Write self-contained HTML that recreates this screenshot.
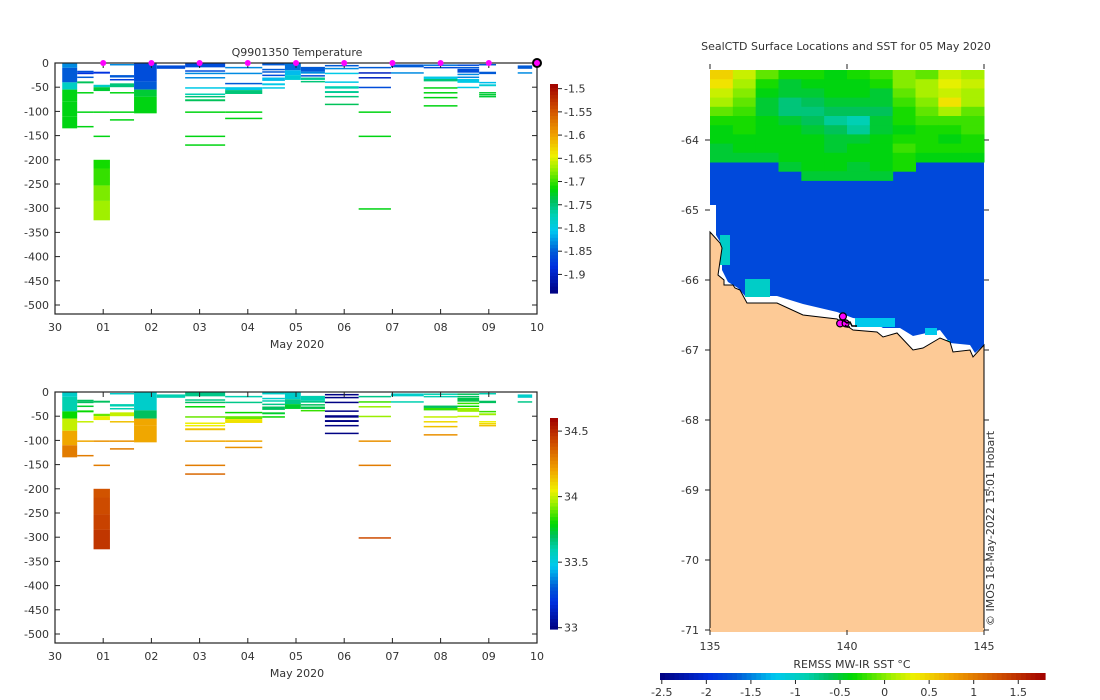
<!DOCTYPE html>
<html><head><meta charset="utf-8"><title>SealCTD</title>
<style>
body{margin:0;background:#fff;}
svg{display:block;font-family:"DejaVu Sans","Liberation Sans",sans-serif;}
text{fill:#333;font-size:11px;}
</style></head>
<body>
<svg id="fig" width="1100" height="700" viewBox="0 0 1100 700" xmlns="http://www.w3.org/2000/svg">
<g id="topPanel"></g>
<g id="botPanel"></g>
<g id="mapPanel"></g>
</svg>
<script>
// ---- section data ----
const dayLabels = ["30","01","02","03","04","05","06","07","08","09","10"];
const depthTicks = [0,50,100,150,200,250,300,350,400,450,500];
const tempTicks = [-1.5,-1.55,-1.6,-1.65,-1.7,-1.75,-1.8,-1.85,-1.9];
const salTicks = [34.5,34,33.5,33];
const castStart = [0.15,0.46,0.8,1.14,1.64,2.11,2.7,3.53,4.3,4.77,5.1,5.6,6.3,6.97,7.65,8.35,8.8,9.6];
const castEnd   = [0.46,0.8,1.14,1.64,2.11,2.7,3.53,4.3,4.77,5.1,5.6,6.3,6.97,7.65,8.35,8.8,9.15,9.9];
// layers: [topDepth, bottomDepth, temperature, salinity]
const castLayers = [
 [[0,10,-1.83,33.55],[10,40,-1.85,33.6],[40,55,-1.78,33.8],[55,80,-1.72,34.0],[80,110,-1.72,34.2],[110,135,-1.72,34.3]],
 [[16,20,-1.86,33.7],[20,23,-1.88,33.7],[28,31,-1.85,33.75],[38,42,-1.74,33.8],[60,62,-1.72,34.0],[100,102,-1.72,34.2],[130,132,-1.72,34.3]],
 [[18,22,-1.88,33.7],[45,50,-1.78,33.9],[50,58,-1.73,34.05],[100,102,-1.72,34.25],[150,152,-1.72,34.3],[200,218,-1.71,34.4],[218,253,-1.7,34.42],[253,285,-1.68,34.44],[285,325,-1.67,34.47]],
 [[2,5,-1.83,33.55],[25,30,-1.85,33.6],[33,36,-1.87,33.6],[42,50,-1.75,34.0],[60,62,-1.72,34.15],[100,102,-1.72,34.25],[116,118,-1.72,34.3]],
 [[0,38,-1.86,33.55],[38,55,-1.85,33.7],[55,70,-1.73,34.2],[70,104,-1.72,34.2]],
 [[5,12,-1.86,33.6]],
 [[0,9,-1.86,33.65],[15,17,-1.86,33.65],[20,22,-1.83,33.7],[29,31,-1.83,33.8],[50,52,-1.8,33.9],[63,65,-1.77,34.05],[68,70,-1.75,34.05],[75,79,-1.74,34.15],[100,102,-1.72,34.2],[150,152,-1.72,34.3],[168,170,-1.72,34.35]],
 [[8,10,-1.83,33.6],[20,22,-1.83,33.65],[41,43,-1.85,33.8],[50,56,-1.8,33.9],[56,64,-1.75,34.08],[100,102,-1.72,34.2],[113,115,-1.72,34.25]],
 [[0,5,-1.85,33.55],[12,14,-1.85,33.55],[17,19,-1.85,33.6],[24,26,-1.86,33.65],[30,37,-1.81,33.7],[42,46,-1.8,33.75],[50,52,-1.8,33.8]],
 [[0,15,-1.84,33.55],[15,25,-1.81,33.65],[25,35,-1.79,33.75]],
 [[8,18,-1.85,33.6],[18,22,-1.83,33.65],[25,27,-1.86,33.7],[30,35,-1.76,33.72],[37,40,-1.75,33.85]],
 [[4,6,-1.85,33.0],[10,13,-1.83,33.0],[20,23,-1.8,33.0],[38,40,-1.8,33.0],[48,53,-1.77,33.0],[58,62,-1.76,33.0],[68,70,-1.75,33.0],[84,86,-1.74,33.0]],
 [[8,10,-1.85,33.65],[19,21,-1.9,33.85],[29,31,-1.9,33.95],[49,51,-1.86,33.95],[100,102,-1.72,34.25],[150,152,-1.72,34.3],[300,302,-1.72,34.42]],
 [[3,9,-1.85,33.55],[19,21,-1.83,33.6]],
 [[3,5,-1.84,33.6],[8,10,-1.86,33.6],[28,33,-1.8,33.7],[33,38,-1.75,33.85],[50,52,-1.72,34.0],[60,62,-1.72,34.1],[70,72,-1.72,34.15],[87,89,-1.72,34.25]],
 [[3,5,-1.86,33.7],[8,10,-1.85,33.7],[12,20,-1.86,33.72],[22,25,-1.83,33.85],[28,30,-1.83,33.8],[33,41,-1.8,33.95],[49,51,-1.8,34.0]],
 [[2,5,-1.85,33.6],[18,23,-1.85,33.7],[39,42,-1.81,33.85],[44,48,-1.79,33.95],[60,62,-1.73,34.05],[64,67,-1.73,34.1],[68,71,-1.73,34.15]],
 [[5,12,-1.85,33.55],[19,21,-1.83,33.65]]
];
const surfaceDays = [1,2,3,4,5,6,7,8,9];
// SST map data
const mapLatTicks = [-64,-65,-66,-67,-68,-69,-70,-71];
const mapLonTicks = [135,140,145];
const sstTicks = [-2.5,-2,-1.5,-1,-0.5,0,0.5,1,1.5];
const sstGrid = [
 [0.5,0.2,-0.1,-0.3,-0.3,-0.4,-0.3,-0.2,0.0,-0.1,0.2,0.1],
 [0.4,0.1,-0.3,-0.5,-0.4,-0.4,-0.4,-0.3,0.0,0.1,0.3,0.2],
 [0.2,0.0,-0.4,-0.5,-0.5,-0.4,-0.4,-0.5,-0.1,0.1,0.2,0.1],
 [0.1,-0.1,-0.5,-0.7,-0.6,-0.5,-0.5,-0.5,-0.2,0.0,0.4,0.1],
 [-0.1,-0.2,-0.5,-0.7,-0.7,-0.6,-0.6,-0.6,-0.3,-0.1,0.1,-0.1],
 [-0.3,-0.3,-0.4,-0.5,-0.6,-0.8,-0.9,-0.5,-0.3,-0.2,-0.2,-0.2],
 [-0.4,-0.3,-0.4,-0.4,-0.5,-0.6,-0.8,-0.5,-0.4,-0.3,-0.3,-0.2],
 [-0.4,-0.4,-0.4,-0.4,-0.4,-0.5,-0.5,-0.4,-0.3,-0.3,-0.4,-0.3],
 [-0.5,-0.4,-0.4,-0.4,-0.4,-0.5,-0.4,-0.4,-0.2,-0.3,-0.3,-0.3],
 [-0.5,-0.5,-0.5,-0.4,-0.4,-0.4,-0.4,-0.4,-0.3,-0.4,-0.4,-0.4],
 [null,null,null,-0.5,-0.4,-0.4,-0.5,-0.4,-0.3,null,null,null],
 [null,null,null,null,-0.5,-0.5,-0.5,-0.5,null,null,null,null]
];
const iceSST = -1.78;
const ctdLon = [139.85,139.75,139.95];
const ctdLat = [-66.52,-66.62,-66.62];

// ---- helpers ----
const NS="http://www.w3.org/2000/svg";
function mk(tag,attrs,parent){const e=document.createElementNS(NS,tag);for(const k in attrs)e.setAttribute(k,attrs[k]);parent.appendChild(e);return e;}
const stops=[[0,[0,0,127]],[0.13,[0,48,224]],[0.2,[0,90,215]],[0.3,[0,200,240]],[0.38,[0,208,176]],[0.44,[0,192,96]],[0.5,[0,216,0]],[0.6,[160,240,0]],[0.66,[240,240,0]],[0.76,[240,160,0]],[0.88,[208,80,0]],[1,[160,0,0]]];
function cmap(f){f=Math.max(0,Math.min(1,f));for(let i=1;i<stops.length;i++){if(f<=stops[i][0]){const a=stops[i-1],b=stops[i];const t=(f-a[0])/(b[0]-a[0]);const c=a[1].map((v,j)=>Math.round(v+(b[1][j]-v)*t));return `rgb(${c[0]},${c[1]},${c[2]})`;}}return "rgb(160,0,0)";}

function panel(g, y0, vIndex, vmin, vmax, cbTop, cbBot, cbTicks, withTitle){
  const xL=55,xR=537,yB=y0+251;
  const xs=d=>xL+(xR-xL)*d/10;
  const ys=m=>y0+m*0.484;
  if(withTitle){const t=mk("text",{x:297,y:y0-7,"text-anchor":"middle","font-size":"12","xml:space":"preserve"},g);t.textContent="Q9901350  Temperature";
    
    }
  castStart.forEach((s,i)=>{
    castLayers[i].forEach(L=>{
      const r=mk("rect",{x:xs(s),y:ys(L[0]),width:xs(castEnd[i])-xs(s),height:Math.max(1.5,ys(L[1])-ys(L[0])),fill:cmap((L[vIndex]-vmin)/(vmax-vmin))},g);
      
      
    });
  });
  const fr=mk("rect",{x:xL,y:y0,width:xR-xL,height:yB-y0,fill:"none",stroke:"#222","stroke-width":1.2},g);
  
  
  depthTicks.forEach(d=>{
    const y=ys(d);
    mk("line",{x1:xL,x2:xL+5,y1:y,y2:y,stroke:"#222"},g);
    mk("line",{x1:xR-5,x2:xR,y1:y,y2:y,stroke:"#222"},g);
    const t=mk("text",{x:xL-6,y:y+4,"text-anchor":"end"},g);t.textContent=d?"-"+d:"0";
    
    
  });
  dayLabels.forEach((l,i)=>{
    const x=xs(i);
    mk("line",{x1:x,x2:x,y1:yB,y2:yB-5,stroke:"#222"},g);
    mk("line",{x1:x,x2:x,y1:y0,y2:y0+5,stroke:"#222"},g);
    const t=mk("text",{x:x,y:yB+17,"text-anchor":"middle"},g);t.textContent=l;
    
    
  });
  const xt=mk("text",{x:297,y:yB+34,"text-anchor":"middle"},g);xt.textContent="May 2020";
  
  
  const cb=mk("g",{},g);
  
  
  const n=60;for(let k=0;k<n;k++){mk("rect",{x:550,y:cbBot-(k+1)*(cbBot-cbTop)/n,width:8,height:(cbBot-cbTop)/n+0.6,fill:cmap((k+0.5)/n)},cb);}
  cbTicks.forEach(v=>{const y=cbBot-(v-vmin)/(vmax-vmin)*(cbBot-cbTop);
    mk("line",{x1:558,x2:562,y1:y,y2:y,stroke:"#222"},cb);
    const t=mk("text",{x:564,y:y+4},cb);t.textContent=String(v);
    
    });
  return {xs,ys};
}
const topG=document.getElementById('topPanel');
const A=panel(topG,63,2,-1.94,-1.49,84,293,tempTicks,true);
surfaceDays.forEach(d=>{const c=mk("circle",{cx:A.xs(d),cy:63,r:3,fill:"#f0f"},topG);
  
  });
const last=mk("circle",{cx:A.xs(10),cy:63,r:4,fill:"#f0f",stroke:"#000","stroke-width":2},topG);


const botG=document.getElementById('botPanel');
panel(botG,392,3,32.99,34.6,418,629,salTicks,false);

// ---- map ----
const mapG=document.getElementById('mapPanel');
const mL=710,mR=984,mT=70,mB=630;
const lonX=l=>mL+(l-135)*(mR-mL)/10;
const latY=l=>mT+(-63-l)*70;
const tt=mk("text",{x:846,y:50,"text-anchor":"middle","font-size":"11.5"},mapG);tt.textContent="SealCTD Surface Locations and SST for 05 May 2020";


const sstMin=-2.52,sstMax=1.8;
const sc=v=>cmap((v-sstMin)/(sstMax-sstMin));
mk("rect",{x:mL,y:mT,width:mR-mL,height:mB-mT,fill:"#fff"},mapG);
const ice=mk("polygon",{points:"710,162 984,162 984,345 975,353 970,345 950,343 940,330 913,336 900,328 883,328 870,320 853,318 837,312 803,304 777,296 745,296 738,288 728,282 722,270 722,245 716,235 716,205 710,205",fill:sc(iceSST)},mapG);


const cw=(mR-mL)/12,ch=9.2;
sstGrid.forEach((row,r)=>row.forEach((v,c)=>{if(v===null)return;
  const e=mk("rect",{x:mL+c*cw,y:mT+r*ch,width:cw+0.5,height:ch+0.5,fill:sc(v)},mapG);
  
  }));
[[720,235,10,30,-1.0],[745,279,25,18,-1.0],[855,318,40,9,-1.2],[925,328,12,7,-1.2],[940,340,10,6,-1.2]].forEach(a=>{
  const e=mk("rect",{x:a[0],y:a[1],width:a[2],height:a[3],fill:sc(a[4])},mapG);
  
  });
const land=mk("polygon",{points:"710,232 720,243 722,248 718,275 724,280 724,285 733,285 735,288 740,290 747,303 777,303 803,315 837,319 853,330 877,332 883,337 897,333 913,350 923,348 940,338 950,342 953,352 970,350 973,357 984,345 984,630 710,630",fill:"#fdca96",stroke:"#000","stroke-width":1},mapG);


mk("rect",{x:mL,y:mB-2,width:mR-mL,height:4,fill:"#fdca96"},mapG);
ctdLon.forEach((l,i)=>{const c=mk("circle",{cx:lonX(l),cy:latY(ctdLat[i]),r:3.5,fill:"#f0f",stroke:"#000","stroke-width":1.2},mapG);
  
  });
mk("path",{d:"M843,320 l4,3 l3,-1 l2,4 l5,0 M845,325 l2,2 l3,0",stroke:"#000","stroke-width":1.5,fill:"none"},mapG);
mapLatTicks.forEach(l=>{const y=latY(l);
  mk("line",{x1:mL-5,x2:mL,y1:y,y2:y,stroke:"#222"},mapG);
  mk("line",{x1:mR,x2:mR+5,y1:y,y2:y,stroke:"#222"},mapG);
  const t=mk("text",{x:mL-11,y:y+4,"text-anchor":"end"},mapG);t.textContent=String(l);
  
  });
mapLonTicks.forEach(l=>{const x=lonX(l);
  mk("line",{x1:x,x2:x,y1:mT-6,y2:mT-1,stroke:"#222"},mapG);
  mk("line",{x1:x,x2:x,y1:mB,y2:mB+5,stroke:"#222"},mapG);
  const t=mk("text",{x:x,y:mB+20,"text-anchor":"middle"},mapG);t.textContent=String(l);
  
  });
const cr=mk("text",{x:0,y:0,transform:"translate(994,626) rotate(-90)","font-size":"10"},mapG);cr.textContent="© IMOS 18-May-2022 15:01 Hobart";


const cbg=mk("g",{},mapG);


const bL=660,bR=1045,nb=80;
for(let k=0;k<nb;k++){mk("rect",{x:bL+k*(bR-bL)/nb,y:673,width:(bR-bL)/nb+0.6,height:7,fill:cmap((k+0.5)/nb)},cbg);}
sstTicks.forEach(v=>{const x=bL+(v-sstMin)/(sstMax-sstMin)*(bR-bL);
  mk("line",{x1:x,x2:x,y1:680,y2:684,stroke:"#222"},cbg);
  const t=mk("text",{x:x,y:696,"text-anchor":"middle"},cbg);t.textContent=String(v);
  
  });
const cbt=mk("text",{x:852,y:668,"text-anchor":"middle"},mapG);cbt.textContent="REMSS MW-IR SST °C";


</script>
</body></html>
